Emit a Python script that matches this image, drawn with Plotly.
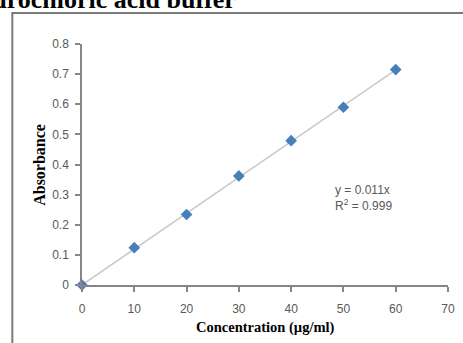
import plotly.graph_objects as go
import numpy as np

# Calibration data
concentration = [0, 10, 20, 30, 40, 50, 60]
absorbance = [0.0, 0.124, 0.234, 0.362, 0.479, 0.590, 0.715]
x_ticks = [0, 10, 20, 30, 40, 50, 60, 70]
y_ticks = [0, 0.1, 0.2, 0.3, 0.4, 0.5, 0.6, 0.7, 0.8]
y_tick_text = ["0", "0.1", "0.2", "0.3", "0.4", "0.5", "0.6", "0.7", "0.8"]
equation_text = "y = 0.011x<br>R<sup>2</sup> = 0.999"
title_text = "Hydrochloric acid buffer"

# Linear fit through the origin
xs = np.array(concentration, dtype=float)
ys = np.array(absorbance, dtype=float)
slope = float((xs * ys).sum() / (xs * xs).sum())
fit_x = [0, max(concentration)]
fit_y = [slope * v for v in fit_x]

W, H = 463, 343
L, R, T, B = 82, 8, 44, 58
pw, ph = W - L - R, H - T - B


def px_to_paper_x(px):
    return (px - L) / pw


def px_to_paper_y(py):
    return (H - B - py) / ph


fig = go.Figure()
fig.add_trace(go.Scatter(x=fit_x, y=fit_y, mode="lines",
                         line=dict(color="#c9c9c9", width=1.5),
                         hoverinfo="skip", showlegend=False))
fig.add_trace(go.Scatter(x=concentration, y=absorbance, mode="markers",
                         marker=dict(symbol="diamond", size=9, color="#4a7ebb"),
                         cliponaxis=False, showlegend=False))

tick_font = dict(family="Liberation Sans", size=12, color="#595959")
fig.update_xaxes(range=[0, 70], tickvals=x_ticks, showgrid=False, zeroline=False,
                 showline=True, linecolor="#868686", linewidth=1.5,
                 ticks="outside", ticklen=5, tickcolor="#868686", tickwidth=1.5,
                 tickfont=tick_font, ticklabelstandoff=7)
fig.update_yaxes(range=[0, 0.8], tickvals=y_ticks, ticktext=y_tick_text,
                 showgrid=False, zeroline=False,
                 showline=True, linecolor="#868686", linewidth=1.5,
                 ticks="outside", ticklen=5, tickcolor="#868686", tickwidth=1.5,
                 tickfont=tick_font, ticklabelstandoff=4)

annotations = [
    dict(text="<b>Absorbance</b>", textangle=-90, xref="paper", yref="paper",
         x=px_to_paper_x(38), y=px_to_paper_y(165), showarrow=False,
         xanchor="center", yanchor="middle",
         font=dict(family="Liberation Serif", size=16, color="#000000")),
    dict(text="<b>Concentration (µg/ml)</b>", xref="paper", yref="paper",
         x=px_to_paper_x(269), y=px_to_paper_y(327), showarrow=False,
         xanchor="center", yanchor="middle",
         font=dict(family="Liberation Serif", size=14.5, color="#000000")),
    dict(text=equation_text, xref="x", yref="y", x=48.0, y=0.29,
         showarrow=False, xanchor="left", yanchor="middle", align="left",
         font=dict(family="Liberation Sans", size=12, color="#595959")),
    dict(text="<b>" + title_text + "</b>", xref="paper", yref="paper",
         x=px_to_paper_x(-45), y=px_to_paper_y(-1), showarrow=False,
         xanchor="left", yanchor="middle",
         font=dict(family="Liberation Serif", size=26, color="#000000")),
]

fig.update_layout(
    width=W, height=H,
    margin=dict(l=L, r=R, t=T, b=B),
    paper_bgcolor="white", plot_bgcolor="white",
    annotations=annotations,
    shapes=[dict(type="rect", xref="paper", yref="paper",
                 x0=px_to_paper_x(11), x1=px_to_paper_x(480),
                 y0=px_to_paper_y(360), y1=px_to_paper_y(13),
                 line=dict(color="#7a7a7a", width=2), layer="below")],
)

fig.write_html("out.html")
